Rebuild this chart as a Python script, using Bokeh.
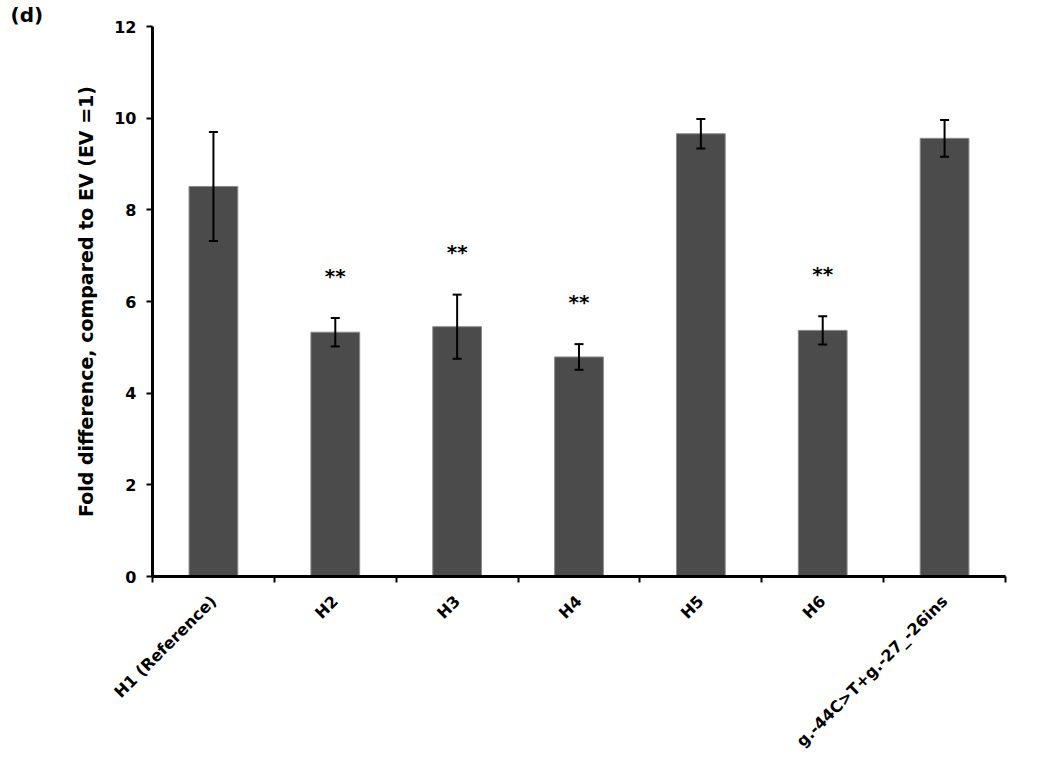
from bokeh.plotting import figure
from bokeh.models import ColumnDataSource, Whisker, TeeHead, FixedTicker, Title, Range1d
from bokeh.core.properties import value
from bokeh.embed import file_html
from bokeh.resources import INLINE
import math

categories = ["H1 (Reference)", "H2", "H3", "H4", "H5", "H6", "g.-44C>T+g.-27_-26ins"]
means = [8.51, 5.33, 5.45, 4.79, 9.66, 5.37, 9.56]
errors = [1.19, 0.31, 0.70, 0.28, 0.32, 0.31, 0.40]
significance = ["", "**", "**", "**", "", "**", ""]
y_ticks = [0, 2, 4, 6, 8, 10, 12]

FONT = "DejaVu Sans"

xs = [i + 0.5 for i in range(len(categories))]
upper = [m + e for m, e in zip(means, errors)]
lower = [m - e for m, e in zip(means, errors)]

src = ColumnDataSource(dict(x=xs, top=means, upper=upper, lower=lower))

p = figure(
    width=1034, height=758,
    frame_width=853, frame_height=550,
    x_range=Range1d(0, len(categories)), y_range=Range1d(0, 12),
    output_backend="svg", toolbar_location=None,
    min_border_left=152, min_border_top=26, min_border_right=29, min_border_bottom=182,
)
p.outline_line_color = None
p.grid.visible = False
p.background_fill_color = "white"

p.title = Title(text="(d)", align="left", offset=-142, standoff=0,
                text_font=FONT, text_font_style="bold", text_font_size="20px",
                text_color="black")

p.vbar(x="x", top="top", width=0.4, bottom=0, source=src,
       fill_color="#4b4b4b", line_color="#8a8a8a", line_width=1)

w = Whisker(base="x", upper="upper", lower="lower", source=src, level="overlay",
            line_color="black", line_width=2,
            upper_head=TeeHead(size=9, line_color="black", line_width=2),
            lower_head=TeeHead(size=9, line_color="black", line_width=2))
p.add_layout(w)

star_x = [x for x, s in zip(xs, significance) if s]
star_y = [u + 0.92 for u, s in zip(upper, significance) if s]
star_t = [s for s in significance if s]
p.text(x=star_x, y=star_y, text=star_t, text_align="center", text_baseline="middle",
       text_font=value(FONT), text_font_style="bold", text_font_size="20px", text_color="black")

# y axis
yax = p.yaxis[0]
yax.ticker = FixedTicker(ticks=y_ticks)
yax.axis_label = "Fold difference, compared to EV (EV =1)"
yax.axis_label_text_font = FONT
yax.axis_label_text_font_style = "bold"
yax.axis_label_text_font_size = "19px"
yax.axis_label_text_color = "black"
yax.axis_label_standoff = 14
yax.major_label_text_font = FONT
yax.major_label_text_font_style = "bold"
yax.major_label_text_font_size = "16px"
yax.major_label_text_color = "black"
yax.major_label_standoff = 10
yax.axis_line_width = 3
yax.axis_line_color = "black"
yax.major_tick_line_width = 2
yax.major_tick_line_color = "black"
yax.major_tick_out = 6
yax.major_tick_in = 0
yax.minor_tick_out = 0
yax.minor_tick_in = 0

# x axis
xax = p.xaxis[0]
xax.ticker = FixedTicker(ticks=xs, minor_ticks=list(range(len(categories) + 1)))
xax.major_label_overrides = {x: c for x, c in zip(xs, categories)}
xax.major_label_orientation = math.pi / 4
xax.major_label_text_font = FONT
xax.major_label_text_font_style = "bold"
xax.major_label_text_font_size = "16px"
xax.major_label_text_color = "black"
xax.major_label_standoff = 16
xax.axis_line_width = 3
xax.axis_line_color = "black"
xax.major_tick_out = 0
xax.major_tick_in = 0
xax.minor_tick_out = 6
xax.minor_tick_in = 0
xax.minor_tick_line_width = 2
xax.minor_tick_line_color = "black"

open("out.html", "w").write(file_html(p, INLINE))
